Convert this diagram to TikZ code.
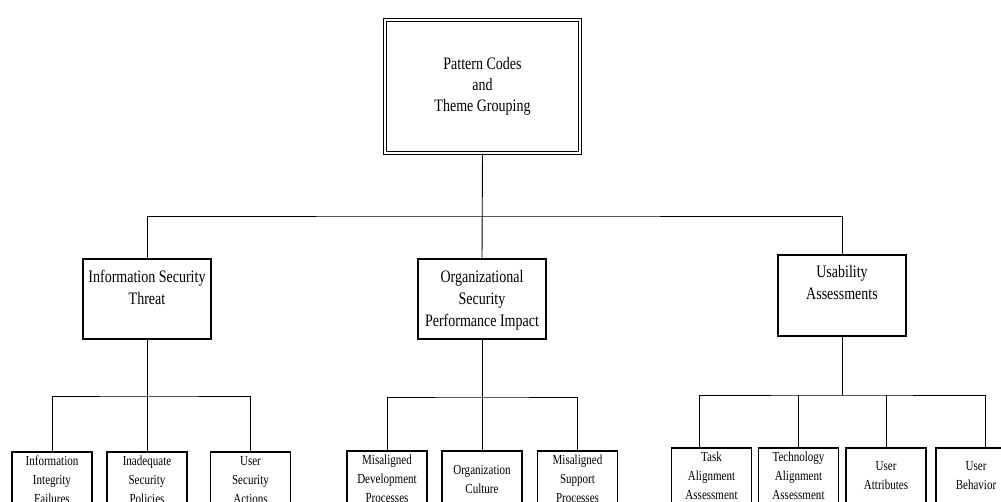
\documentclass[tikz,border=0pt]{standalone}
\usepackage{fontspec}
\setmainfont[FakeStretch=0.8]{Liberation Serif}
\usepackage{tikz}
\tikzset{rootbox/.style={
  shape=rectangle,
  draw=black,
  double,
  double distance=2.4pt,
  line width=0.8pt,
  minimum width=195pt,
  minimum height=133pt,
  align=center,
  font=\fontsize{17.5}{21}\selectfont,
  }
}
\tikzset{themebox/.style={
  shape=rectangle,
  draw=black,
  line width=1.1pt,
  minimum width=128pt,
  inner sep=0pt,
  align=center,
  font=\fontsize{17.5}{22}\selectfont,
  }
}
\tikzset{codebox/.style={
  shape=rectangle,
  draw=black,
  line width=1.1pt,
  minimum width=80pt,
  minimum height=56pt,
  inner sep=0pt,
  align=center,
  font=\fontsize{13.8}{19}\selectfont,
  }
}
\tikzset{link/.style={
  draw=black,
  line width=0.9pt,
  }
}

\begin{document}
\begin{tikzpicture}[x=1pt, y=-1pt]
  \useasboundingbox (0,0) rectangle (1001,502);

  % top of the tree
  \node [rootbox] (root) at (482.5,86.5) {Pattern Codes\\and\\Theme Grouping};

  % themes
  \node [themebox, text height=46pt, text depth=34pt] (ist)  at (147,299)   {Information Security\\Threat};
  \node [themebox, text height=68pt, text depth=12pt] (ospi) at (482,299)   {Organizational\\Security\\Performance Impact};
  \node [themebox, text height=45pt, text depth=36pt] (ua)   at (842,295.5) {Usability\\Assessments};

  % codes
  \node [codebox] (iif) at (52,480)    {Information\\Integrity\\Failures};
  \node [codebox] (isp) at (147,480)   {Inadequate\\Security\\Policies};
  \node [codebox] (usa) at (250.5,480) {User\\Security\\Actions};

  \node [codebox] (mdp) at (387,479)   {Misaligned\\Development\\Processes};
  \node [codebox] (oc)  at (482,479)   {Organization\\Culture};
  \node [codebox] (msp) at (577.5,479) {Misaligned\\Support\\Processes};

  \node [codebox] (taa)  at (711.5,476) {Task\\Alignment\\Assessment};
  \node [codebox] (tech) at (798.5,476) {Technology\\Alignment\\Assessment};
  \node [codebox] (uatt) at (886,476)   {User\\Attributes};
  \node [codebox] (ubeh) at (976,476)   {User\\Behavior};

  % branch points
  \coordinate (rootbar) at (482,216);
  \coordinate (istbar)  at (147,396);
  \coordinate (ospibar) at (482,397);
  \coordinate (uabar)   at (842,395);

  \draw [link] (root.south) -- (ospi.north);
  \draw [link] (ist.north) |- (rootbar) -| (ua.north);

  \draw [link] (ist.south) -- (isp.north);
  \draw [link] (iif.north) |- (istbar) -| (usa.north);

  \draw [link] (ospi.south) -- (oc.north);
  \draw [link] (mdp.north) |- (ospibar) -| (msp.north);

  \draw [link] (ua.south) -- (uabar);
  \draw [link] ([xshift=-12.5pt]taa.north) |- (uabar) -| ([xshift=9pt]ubeh.north);
  \draw [link] (tech.north) -- (tech.north |- uabar);
  \draw [link] (uatt.north) -- (uatt.north |- uabar);
\end{tikzpicture}
\end{document}
